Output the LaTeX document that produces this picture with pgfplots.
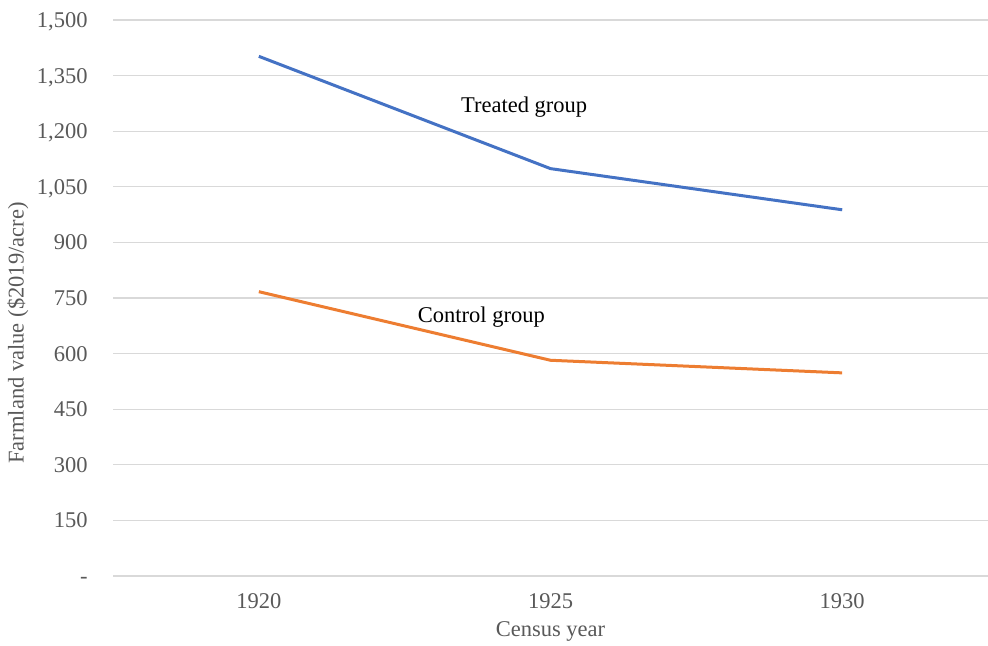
\documentclass[border=0pt]{standalone}
\usepackage{fontspec}
\setmainfont{Liberation Serif}
\usepackage{pgfplots}
\pgfplotsset{compat=1.18}
\definecolor{tblue}{RGB}{68,114,196}
\definecolor{torange}{RGB}{237,125,49}
\definecolor{tgray}{RGB}{89,89,89}
\definecolor{tgrid}{RGB}{217,217,217}
\begin{document}
\fontsize{11.25}{13.5}\selectfont
\begin{tikzpicture}
\begin{axis}[
  at={(56.5pt,35pt)}, anchor=south west,
  scale only axis,
  width=437.5pt, height=278pt,
  xmin=-0.5, xmax=2.5,
  ymin=0, ymax=1500,
  xtick={0,1,2},
  xticklabels={1920,1925,1930},
  ytick={0,150,300,450,600,750,900,1050,1200,1350,1500},
  yticklabels={-,150,300,450,600,750,900,{1,050},{1,200},{1,350},{1,500}},
  ymajorgrids,
  grid style={tgrid, line width=0.6pt},
  axis line style={draw=none},
  tick style={draw=none},
  major tick length=0pt,
  ticklabel style={font=\fontsize{11.25}{13.5}\selectfont, text=tgray},
  yticklabel style={anchor=base east, xshift=-8.75pt, yshift=-3.8pt},
  xticklabel style={yshift=-4.75pt},
  xlabel={Census year},
  ylabel={Farmland value (\$2019/acre)},
  label style={font=\fontsize{11.25}{13.5}\selectfont, text=tgray},
  xlabel style={at={(axis description cs:0.5,-0.108)}, anchor=base},
  ylabel style={at={(axis description cs:-0.1086,0.437)}, anchor=center},
  clip=false,
]
\addplot[tblue, line width=1.5pt] coordinates {(0,1402) (1,1099) (2,988)};
\addplot[torange, line width=1.5pt] coordinates {(0,767) (1,582) (2,548)};
\node[anchor=base, font=\fontsize{11.25}{13.5}\selectfont] at (axis cs:0.9096,1250) {Treated group};
\node[anchor=base, font=\fontsize{11.25}{13.5}\selectfont] at (axis cs:0.763,683) {Control group};
\end{axis}
\pgfresetboundingbox
\path[use as bounding box] (0,0) rectangle (494pt,323pt);
\end{tikzpicture}
\end{document}
